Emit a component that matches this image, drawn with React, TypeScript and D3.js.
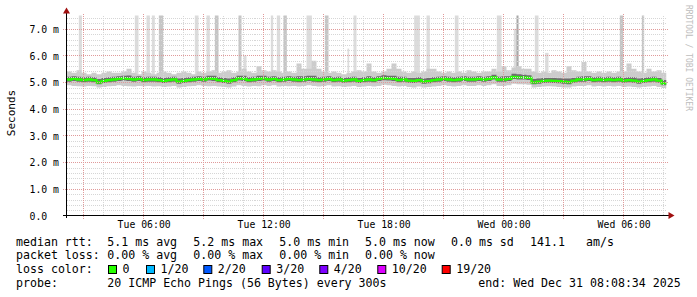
import React from "react";
import * as d3 from "d3";

// ---- data (15-minute steps, 120 steps covering Tue 02:10 .. Wed 08:10) ----
const medianMs = [
  5.10,5.12,5.10,5.08,5.10,5.08,4.99,5.05,5.08,5.10, 5.12,5.14,5.12,5.10,5.12,5.08,5.10,5.10,5.08,5.05,
  5.08,5.10,5.02,5.05,5.08,5.10,5.12,5.10,5.14,5.12, 5.08,5.05,5.02,5.08,5.14,5.12,5.08,5.10,5.12,5.14,
  5.10,5.12,5.08,5.10,5.12,5.10,5.08,5.10,5.12,5.10, 5.08,5.10,5.12,5.08,5.10,5.06,5.08,5.10,5.05,5.08,
  5.10,5.08,5.12,5.15,5.14,5.12,5.08,5.10,5.06,5.05, 5.08,5.02,5.04,5.08,5.10,5.12,5.10,5.08,5.10,5.12,
  5.10,5.10,5.12,5.10,5.12,5.18,5.10,5.10,5.12,5.20, 5.18,5.18,5.16,4.99,5.02,5.05,5.06,5.05,5.04,5.02,
  5.00,5.06,5.10,5.10,5.12,5.08,5.10,5.08,5.10,5.08, 5.10,5.06,5.08,5.06,5.02,5.05,5.08,5.10,5.06,4.96,
];
const smokeHiOuter = [
  5.40,5.35,5.45,5.35,5.30,5.35,5.30,5.35,5.40,5.35, 5.35,5.40,5.50,5.35,5.30,5.40,5.35,5.30,5.35,5.40,
  5.35,5.30,5.35,5.40,5.35,5.30,5.40,5.35,5.40,5.45, 5.35,5.40,5.45,5.35,5.40,5.50,5.40,5.35,5.60,5.45,
  5.40,5.45,5.40,5.35,5.40,5.35,5.70,5.50,5.50,5.80, 5.50,5.40,5.35,5.40,5.35,5.30,5.35,5.40,5.45,5.40,
  5.70,5.40,5.35,5.40,5.50,5.70,5.50,5.40,5.35,5.40, 5.35,5.40,5.50,5.50,5.40,5.35,5.40,5.35,5.40,5.35,
  5.45,5.40,5.35,5.40,5.40,5.50,5.40,5.60,5.45,5.55, 5.60,5.50,5.50,5.40,5.35,5.40,5.35,5.45,5.40,5.35,
  5.60,5.45,5.40,5.76,5.40,5.35,5.40,5.35,5.40,5.35, 5.40,5.40,5.70,5.50,5.40,5.35,5.50,5.40,5.45,5.35,
];
const smokeHiInner = [
  5.20,5.22,5.20,5.18,5.20,5.18,5.12,5.16,5.18,5.20, 5.22,5.24,5.25,5.20,5.22,5.18,5.20,5.20,5.18,5.16,
  5.18,5.20,5.14,5.16,5.18,5.20,5.22,5.20,5.24,5.24, 5.18,5.16,5.14,5.18,5.24,5.24,5.18,5.20,5.24,5.24,
  5.20,5.22,5.18,5.20,5.22,5.20,5.22,5.22,5.24,5.24, 5.18,5.20,5.22,5.18,5.20,5.16,5.18,5.20,5.16,5.18,
  5.22,5.18,5.22,5.26,5.24,5.24,5.20,5.20,5.16,5.16, 5.18,5.14,5.16,5.18,5.20,5.22,5.20,5.18,5.20,5.22,
  5.20,5.20,5.22,5.20,5.22,5.28,5.20,5.22,5.22,5.32, 5.30,5.28,5.26,5.12,5.14,5.16,5.16,5.16,5.15,5.14,
  5.14,5.16,5.20,5.22,5.22,5.18,5.20,5.18,5.20,5.18, 5.20,5.16,5.18,5.18,5.14,5.16,5.18,5.20,5.16,5.08,
];
const smokeLoInner = [
  5.02,5.04,5.02,5.00,5.02,5.00,4.92,4.97,5.00,5.02, 5.04,5.06,5.04,5.02,5.04,5.00,5.02,5.02,5.00,4.97,
  5.00,5.02,4.94,4.97,5.00,5.02,5.04,5.02,5.06,5.04, 5.00,4.97,4.94,5.00,5.06,5.04,5.00,5.02,5.04,5.06,
  5.02,5.04,5.00,5.02,5.04,5.02,5.00,5.02,5.04,5.02, 5.00,5.02,5.04,5.00,5.02,4.98,5.00,5.02,4.97,5.00,
  5.02,5.00,5.04,5.07,5.06,5.04,5.00,5.02,4.98,4.97, 5.00,4.94,4.96,5.00,5.02,5.04,5.02,5.00,5.02,5.04,
  5.02,5.02,5.04,5.02,5.04,5.10,5.02,5.02,5.04,5.12, 5.10,5.10,5.08,4.92,4.94,4.97,4.98,4.97,4.96,4.94,
  4.92,4.98,5.02,5.02,5.04,5.00,5.02,5.00,5.02,5.00, 5.02,4.98,5.00,4.98,4.94,4.97,5.00,5.02,4.98,4.88,
];
const smokeLoOuter = [
  4.88,4.86,4.85,4.84,4.86,4.85,4.80,4.82,4.85,4.86, 4.88,4.86,4.85,4.84,4.86,4.85,4.86,4.84,4.85,4.82,
  4.84,4.86,4.80,4.82,4.85,4.86,4.88,4.86,4.85,4.86, 4.84,4.82,4.80,4.84,4.88,4.86,4.84,4.86,4.85,4.88,
  4.86,4.88,4.84,4.86,4.85,4.86,4.84,4.86,4.88,4.86, 4.84,4.86,4.88,4.84,4.85,4.82,4.84,4.86,4.82,4.84,
  4.86,4.84,4.86,4.90,4.88,4.86,4.84,4.86,4.82,4.80, 4.84,4.80,4.82,4.84,4.86,4.88,4.86,4.84,4.86,4.88,
  4.86,4.86,4.88,4.86,4.88,4.92,4.86,4.86,4.88,4.94, 4.92,4.92,4.90,4.80,4.82,4.84,4.85,4.84,4.82,4.80,
  4.80,4.84,4.86,4.86,4.88,4.84,4.86,4.84,4.86,4.84, 4.86,4.82,4.84,4.82,4.80,4.82,4.84,4.86,4.82,4.78,
];
// outlier pings: minutes after graph start, duration (min), value (ms), number of pings high
const spikeStart = [37,205,240,256,277,385,420,445,516,531,613,631,651,720,775,843,861,1043,1080,1165,1291,1342,1350,1405,1436,1660,1726];
const spikeDur   = [9,11,10,9,13,11,10,11,9,9,7,10,10,16,11,5,9,17,10,11,14,14,6,11,10,10,7];
const spikeValue = [9,9,9,9,9,9,9,9,9,6.0,9,9,9,9,9,6.26,9,9,9,9,9,7.0,9,9,6.1,9,9];
const spikeCount = [1,1,1,1,2,1,1,2,2,1,1,1,2,1,2,1,1,1,1,1,1,1,3,1,1,2,2];

const yMajorTicks = [0,1,2,3,4,5,6,7];
const xLabelHours = [6,12,18,0];

const rttStats = ["5.1 ms avg","5.2 ms max","5.0 ms min","5.0 ms now","0.0 ms sd","141.1","am/s"];
const lossStats = ["0.00 % avg","0.00 % max","0.00 % min","0.00 % now"];
const lossLabels = ["0","1/20","2/20","3/20","4/20","10/20","19/20"];
const lossColors = ["#26ff00","#00b8ff","#0059ff","#5e00ff","#7e00ff","#dd00ff","#ff0000"];
const probeText = "20 ICMP Echo Pings (56 Bytes) every 300s";
const endText = "end: Wed Dec 31 08:08:34 2025";

const W = 697, H = 297;
const X0 = 66.5, X1 = 666.5, Y0 = 215.5, Y1 = 15.5;
const FONT = "'DejaVu Sans Mono', monospace";

export default function App() {
  const start = new Date(Date.UTC(2025, 11, 30, 2, 10));
  const end = new Date(Date.UTC(2025, 11, 31, 8, 10));
  const x = d3.scaleUtc().domain([start, end]).range([X0, X1]);
  const y = d3.scaleLinear().domain([0, 7.5]).range([Y0, Y1]);
  const stepMs = 15 * 60 * 1000;
  const tAt = (k: number) => new Date(start.getTime() + k * stepMs);

  const idx = d3.range(medianMs.length + 1);
  const val = (arr: number[], k: number) => arr[Math.min(k, arr.length - 1)];
  const band = (lo: number[], hi: number[]) =>
    d3.area<number>().x(k => x(tAt(k))).y0(k => y(val(lo, k))).y1(k => y(val(hi, k))).curve(d3.curveStepAfter)(idx) || "";
  const medLine = d3.line<number>().x(k => x(tAt(k))).y(k => y(val(medianMs, k))).curve(d3.curveStepAfter)(idx) || "";

  const hours = d3.utcHour.range(d3.utcHour.ceil(start), end);
  const yMinor = d3.range(0, 7.5, 0.2).map(v => +v.toFixed(1));
  const fmt = d3.utcFormat("%a %H:%M");

  const rttX = [107.3, 193.3, 279.3, 365, 451, 530, 586];
  const boxX = [108, 146, 203.3, 261.7, 319.3, 377.3, 441.7];
  const rowY = [245.5, 259.3, 273.1, 286.9];

  return (
    <svg width={W} height={H} style={{ display: "block", position: "absolute", left: 0, top: 0 }} fontFamily={FONT}>
      <rect width={W} height={H} fill="#ffffff" />
      <defs>
        <clipPath id="plot"><rect x={X0} y={Y1} width={X1 - X0} height={Y0 - Y1} /></clipPath>
      </defs>
      <g clipPath="url(#plot)">
        {spikeStart.map((m, i) => {
          const t0 = new Date(start.getTime() + m * 60000);
          const t1 = new Date(start.getTime() + (m + spikeDur[i]) * 60000);
          const k = Math.min(Math.floor(m / 15), medianMs.length - 1);
          return (
            <rect key={i} x={x(t0)} width={x(t1) - x(t0)} y={y(spikeValue[i])}
              height={y(medianMs[k]) - y(spikeValue[i])}
              fill={spikeCount[i] >= 3 ? "#a8a8a8" : spikeCount[i] === 2 ? "#c6c6c6" : "#dcdcdc"} />
          );
        })}
        <path d={band(smokeLoOuter, smokeHiOuter)} fill="#cccccc" />
        <path d={band(smokeLoInner, smokeHiInner)} fill="#6e6e6e" />
        <path d={medLine} fill="none" stroke="#26ff00" strokeWidth={2.3} />
      </g>
      {/* grid */}
      <g shapeRendering="crispEdges">
        {hours.filter(h => h.getUTCHours() % 3 !== 0).map((h, i) => (
          <line key={"vm" + i} x1={Math.round(x(h)) + 0.5} x2={Math.round(x(h)) + 0.5} y1={Y1} y2={Y0}
            stroke="#d6d6d6" strokeDasharray="1,1" />
        ))}
        {yMinor.filter(v => Math.abs(v - Math.round(v)) > 0.01).map((v, i) => (
          <line key={"hm" + i} x1={X0} x2={X1} y1={Math.round(y(v)) + 0.5} y2={Math.round(y(v)) + 0.5}
            stroke="#d6d6d6" strokeDasharray="1,1" />
        ))}
        {hours.filter(h => h.getUTCHours() % 3 === 0).map((h, i) => (
          <line key={"vM" + i} x1={Math.round(x(h)) + 0.5} x2={Math.round(x(h)) + 0.5} y1={Y1 - 2} y2={Y0 + 3}
            stroke="#e09a9a" strokeDasharray="1,1" />
        ))}
        {yMajorTicks.filter(v => v > 0).map((v, i) => (
          <line key={"hM" + i} x1={X0 - 4} x2={X1 + 2} y1={Math.round(y(v)) + 0.5} y2={Math.round(y(v)) + 0.5}
            stroke="#e09a9a" strokeDasharray="1,1" />
        ))}
        {/* axes */}
        <line x1={X0 - 4} x2={X1 + 3} y1={Y0} y2={Y0} stroke="#000" />
        <line x1={X0} x2={X0} y1={Y0 + 2} y2={Y1 - 3} stroke="#000" />
      </g>
      <path d={`M${X1 + 2},${Y0 - 3.5} L${X1 + 8},${Y0} L${X1 + 2},${Y0 + 3.5} Z`} fill="#a01010" />
      <path d={`M${X0 - 3.5},${Y1 - 2} L${X0},${Y1 - 8} L${X0 + 3.5},${Y1 - 2} Z`} fill="#a01010" />
      {/* y labels */}
      {yMajorTicks.map(v => (
        <text key={"yl" + v} x={29.5} y={y(v) + 4} fontSize={9.8} fill="#000" style={{ whiteSpace: "pre" }}>
          {v === 0 ? "0.0" : `${v.toFixed(1)} m`}
        </text>
      ))}
      {/* x labels */}
      {hours.filter(h => xLabelHours.includes(h.getUTCHours())).map((h, i) => (
        <text key={"xl" + i} x={x(h) + 1} y={227.8} fontSize={9.8} textAnchor="middle" fill="#000">
          {fmt(h)}
        </text>
      ))}
      <text transform="translate(15,113) rotate(-90)" fontSize={11} textAnchor="middle" fill="#000">Seconds</text>
      <text transform="translate(685.5,5) rotate(90)" fontSize={8} fill="#bdbdbd">RRDTOOL / TOBI OETIKER</text>
      {/* legend */}
      <g fontSize={11.6} fill="#000">
        <text x={16} y={rowY[0]}>median rtt:</text>
        {rttStats.map((s, i) => <text key={"r" + i} x={rttX[i]} y={rowY[0]}>{s}</text>)}
        <text x={16} y={rowY[1]}>packet loss:</text>
        {lossStats.map((s, i) => <text key={"p" + i} x={rttX[i]} y={rowY[1]}>{s}</text>)}
        <text x={16} y={rowY[2]}>loss color:</text>
        {lossLabels.map((s, i) => (
          <g key={"lc" + i}>
            <rect x={boxX[i] + 0.5} y={265.5} width={8} height={8} fill={lossColors[i]} stroke="#000" strokeWidth={1} />
            <text x={boxX[i] + 14.5} y={rowY[2]}>{s}</text>
          </g>
        ))}
        <text x={16} y={rowY[3]}>probe:</text>
        <text x={rttX[0]} y={rowY[3]} style={{ whiteSpace: "pre" }}>{probeText}</text>
        <text x={478.3} y={rowY[3]}>{endText}</text>
      </g>
    </svg>
  );
}
